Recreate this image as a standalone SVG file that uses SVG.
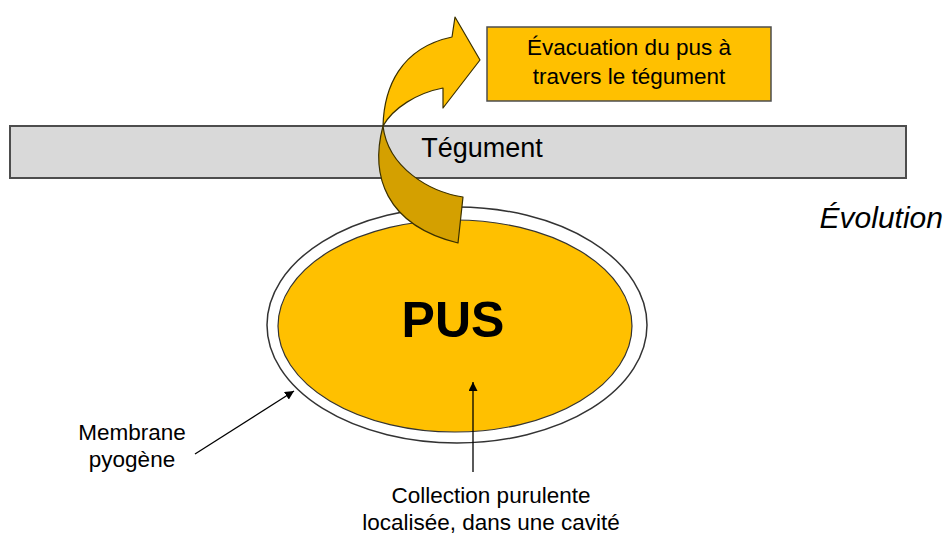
<svg xmlns="http://www.w3.org/2000/svg" width="947" height="540" viewBox="0 0 947 540">
<defs>
<style>
.t{font-family:"Liberation Sans",Arial,Helvetica,sans-serif;fill:#000;}
.lbl{font-size:22.5px;text-anchor:middle;}
.ln{stroke:#000;stroke-width:1.3;fill:none;marker-end:url(#ah);}
.rib{stroke:#3a3000;stroke-width:1.2;stroke-linejoin:round;}
</style>
<marker id="ah" viewBox="0 0 10 10" refX="10" refY="5" markerWidth="9" markerHeight="9" markerUnits="userSpaceOnUse" orient="auto">
<path d="M0,0 L10,5 L0,10 Z" fill="#000"/>
</marker>
</defs>
<rect width="947" height="540" fill="#fff"/>
<g id="tegument">
<rect x="10" y="126" width="896" height="52" fill="#d9d9d9" stroke="#4d4d4d" stroke-width="2"/>
<text class="t" x="482" y="157" font-size="27" text-anchor="middle">Tégument</text>
</g>
<g id="membrane">
<ellipse cx="457" cy="325" rx="190" ry="118" fill="#fff" stroke="#333" stroke-width="1.5"/>
</g>
<g id="pus">
<ellipse cx="455" cy="326" rx="177" ry="106" fill="#ffc000" stroke="#333" stroke-width="1.2"/>
<text class="t" x="453" y="337" font-size="50" font-weight="bold" text-anchor="middle">PUS</text>
</g>
<g id="evacuation-arrow">
<path class="rib" fill="#ffc000" d="M383,126 C384,88 400,48 452,37 L455,17 L480,60 L443,108 L443,88 C417,93 393,108 383,126 Z"/>
<path class="rib" fill="#d4a000" d="M383,126 C370,175 385,225 458,243 L463,197 C430,192 388,168 383,126 Z"/>
</g>
<g id="evacuation-box">
<rect x="487" y="27" width="284" height="74" fill="#ffc000" stroke="#4d4d4d" stroke-width="1.5"/>
<text class="t lbl" x="629" y="55">Évacuation du pus à</text>
<text class="t lbl" x="629" y="84">travers le tégument</text>
</g>
<g id="evolution">
<text class="t" x="943" y="228" font-size="30" font-style="italic" text-anchor="end">Évolution</text>
</g>
<g id="label-membrane">
<text class="t lbl" x="132" y="440">Membrane</text>
<text class="t lbl" x="132" y="467">pyogène</text>
</g>
<g id="label-collection">
<text class="t lbl" x="491" y="503">Collection purulente</text>
<text class="t lbl" x="491" y="530">localisée, dans une cavité</text>
</g>
<g id="connectors">
<line class="ln" x1="195" y1="454" x2="294" y2="391"/>
<line class="ln" x1="473" y1="472" x2="473" y2="382"/>
</g>
</svg>
